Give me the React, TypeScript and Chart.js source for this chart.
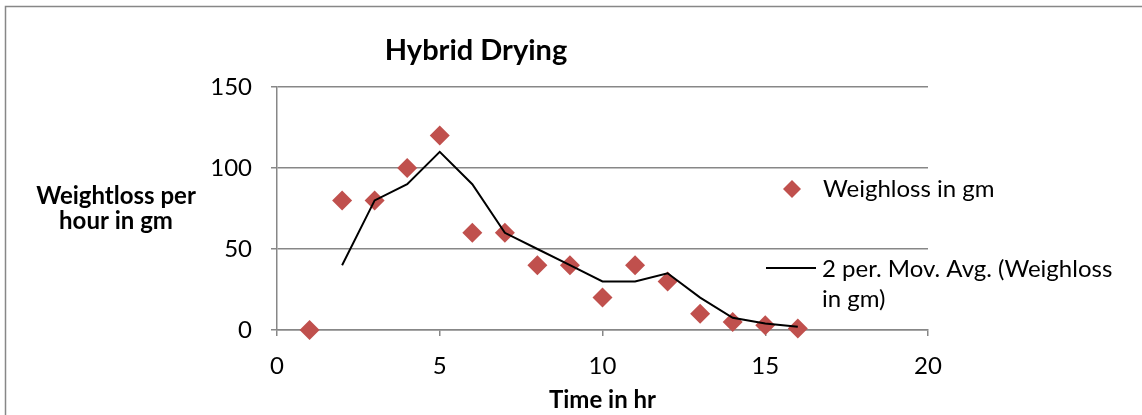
import React, { useEffect, useRef } from "react";
import { Chart, registerables } from "chart.js";

Chart.register(...registerables);

const hours = [1, 2, 3, 4, 5, 6, 7, 8, 9, 10, 11, 12, 13, 14, 15, 16];
const weightLoss = [0, 80, 80, 100, 120, 60, 60, 40, 40, 20, 40, 30, 10, 5, 3, 1];
const avgHours = [2, 3, 4, 5, 6, 7, 8, 9, 10, 11, 12, 13, 14, 15, 16];
const movingAvg = [40, 80, 90, 110, 90, 60, 50, 40, 30, 30, 35, 20, 7.5, 4, 2];

const titleText = "Hybrid Drying";
const yTitleLines = ["Weightloss per", "hour in gm"];
const xTitleText = "Time in hr";
const seriesName = "Weighloss in gm";
const avgNameLines = ["2 per. Mov. Avg. (Weighloss", "in gm)"];

const FONT = "Lato, 'Open Sans', sans-serif";
const GRID = "#878787";
const RED = "#C0504D";

const decorPlugin = {
  id: "decor",
  beforeDraw(chart: any) {
    const ctx = chart.ctx;
    ctx.save();
    ctx.strokeStyle = GRID;
    ctx.lineWidth = 1.5;
    ctx.strokeRect(5.5, 6.5, 1300, 600);
    ctx.restore();
  },
  afterDraw(chart: any) {
    const ctx = chart.ctx;
    const area = chart.chartArea;
    ctx.save();
    ctx.fillStyle = "#000";
    ctx.textBaseline = "alphabetic";
    // title
    ctx.font = `bold 29px ${FONT}`;
    ctx.textAlign = "center";
    ctx.fillText(titleText, 476, 60);
    // y title
    ctx.font = `bold 24px ${FONT}`;
    ctx.fillText(yTitleLines[0], 116, 204);
    ctx.fillText(yTitleLines[1], 116, 229);
    // x title
    ctx.fillText(xTitleText, (area.left + area.right) / 2, 408);
    // legend
    ctx.font = `24px ${FONT}`;
    ctx.textAlign = "left";
    ctx.fillStyle = RED;
    ctx.beginPath();
    ctx.moveTo(792, 180);
    ctx.lineTo(801, 189);
    ctx.lineTo(792, 198);
    ctx.lineTo(783, 189);
    ctx.closePath();
    ctx.fill();
    ctx.fillStyle = "#000";
    ctx.fillText(seriesName, 823, 197);
    ctx.strokeStyle = "#000";
    ctx.lineWidth = 2;
    ctx.beginPath();
    ctx.moveTo(766, 268);
    ctx.lineTo(816, 268);
    ctx.stroke();
    ctx.fillText(avgNameLines[0], 822, 277);
    ctx.fillText(avgNameLines[1], 822, 307);
    ctx.restore();
  },
};

export default function App() {
  const ref = useRef<HTMLCanvasElement>(null);
  useEffect(() => {
    if (!ref.current) return;
    const chart = new Chart(ref.current, {
      type: "scatter",
      data: {
        datasets: [
          {
            label: seriesName,
            data: hours.map((h, i) => ({ x: h, y: weightLoss[i] })),
            pointStyle: "rectRot",
            pointRadius: 10,
            pointBackgroundColor: RED,
            pointBorderColor: RED,
            pointBorderWidth: 0,
            showLine: false,
            clip: false,
            order: 2,
          },
          {
            label: avgNameLines.join(" "),
            data: avgHours.map((h, i) => ({ x: h, y: movingAvg[i] })),
            showLine: true,
            borderColor: "#000",
            borderWidth: 2,
            pointRadius: 0,
            tension: 0,
            clip: false,
            order: 1,
          },
        ],
      },
      options: {
        responsive: false,
        animation: false,
        layout: { padding: { left: 0, top: 87, right: 214, bottom: 0 } },
        plugins: { legend: { display: false }, title: { display: false }, tooltip: { enabled: false } },
        scales: {
          x: {
            type: "linear",
            min: 0,
            max: 20,
            ticks: { stepSize: 5, color: "#000", font: { family: FONT, size: 24 }, padding: 16, maxRotation: 0 },
            grid: { drawOnChartArea: false, drawTicks: true, tickLength: 6, color: GRID, lineWidth: 1.5 },
            border: { display: true, color: GRID, width: 1.5 },
            afterFit: (s: any) => { s.height = 85; },
          },
          y: {
            min: 0,
            max: 150,
            ticks: { stepSize: 50, color: "#000", font: { family: FONT, size: 24 }, padding: 19 },
            grid: { drawOnChartArea: true, drawTicks: true, tickLength: 6, color: GRID, lineWidth: 1.5 },
            border: { display: true, color: GRID, width: 1.5 },
            afterFit: (s: any) => { s.width = 277; },
          },
        },
      },
      plugins: [decorPlugin],
    } as any);
    return () => chart.destroy();
  }, []);
  return (
    <div style={{ position: "absolute", left: 0, top: 0, width: 1142, height: 415, background: "#fff" }}>
      <canvas ref={ref} width={1142} height={415} style={{ display: "block" }} />
    </div>
  );
}
